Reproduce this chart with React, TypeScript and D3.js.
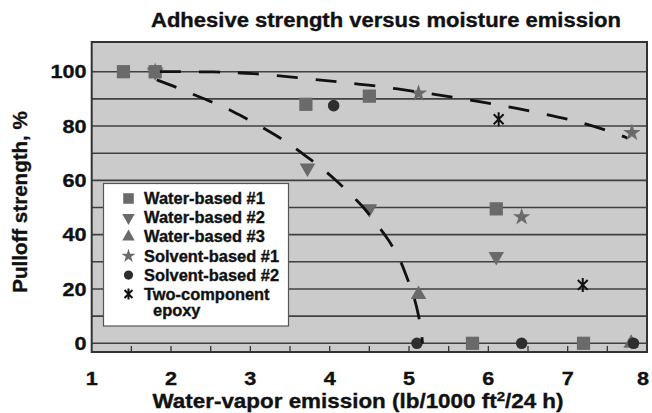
import React from "react";
import * as d3 from "d3";

const W = 652;
const H = 413;

const title = "Adhesive strength versus moisture emission";
const xTicks = [1, 2, 3, 4, 5, 6, 7, 8];
const xMinorTicks = [1.5, 2, 2.5, 3, 3.5, 4, 4.5, 5, 5.5, 6, 6.5, 7, 7.5];
const yTicks = [0, 20, 40, 60, 80, 100];
const yGrid = [0, 10, 20, 30, 40, 50, 60, 70, 80, 90, 100];

const waterBased1: [number, number][] = [[1.4, 100], [1.8, 100], [3.7, 88], [4.5, 91], [6.1, 49.5], [5.8, 0], [7.2, 0]];
const waterBased2: [number, number][] = [[1.8, 100], [3.72, 64.5], [4.5, 49.5], [6.1, 32]];
const waterBased3: [number, number][] = [[5.12, 18], [7.8, 0]];
const solventBased1: [number, number][] = [[1.8, 100], [5.12, 92], [6.42, 46.5], [7.81, 77.5]];
const solventBased2: [number, number][] = [[4.05, 87.5], [5.1, 0], [6.42, 0], [7.83, 0]];
const twoComponentEpoxy: [number, number][] = [[6.13, 82.5], [7.19, 21.5]];

const upperCurve: [number, number][] = [
  [1.86, 100], [2.53, 99.9], [3.04, 99.3], [3.59, 97.8], [4.09, 96.3], [4.59, 94.7],
  [5.1, 92.6], [5.6, 90.4], [6.11, 87.8], [6.61, 85], [7.12, 81.6], [7.6, 77.3], [7.75, 75.6],
];
const lowerCurve: [number, number][] = [
  [1.82, 97], [2.07, 94.2], [2.3, 91.4], [2.55, 88.4], [2.79, 85.2], [3.02, 81.6],
  [3.25, 77.8], [3.46, 74], [3.67, 69.6], [3.88, 65], [4.07, 60.2], [4.26, 55],
  [4.42, 50.2], [4.59, 44], [4.74, 38], [4.88, 31], [4.97, 24.5], [5.06, 17.2],
  [5.12, 10.2], [5.16, 3], [5.17, 0],
];

const legendLabels = [
  ["Water-based #1"],
  ["Water-based #2"],
  ["Water-based #3"],
  ["Solvent-based #1"],
  ["Solvent-based #2"],
  ["Two-component", "epoxy"],
];

const FONT = "'Liberation Sans', Arial, Helvetica, sans-serif";
const GRAY = "#6a6a6a";
const DARK = "#2e2e2e";
const INK = "#111";

const x = d3.scaleLinear().domain([1, 8]).range([91.7, 647]);
const y = d3.scaleLinear().domain([0, 100]).range([343.3, 71.7]);
const plotTop = 42;
const plotBottom = 352;

function sym(type: d3.SymbolType, size: number) {
  return d3.symbol().type(type).size(size)() as string;
}

const asteriskPath = (r: number) => {
  const p = d3.path();
  p.moveTo(0, -r);
  p.lineTo(0, r);
  const a = (45 * Math.PI) / 180;
  const dx = r * Math.cos(a);
  const dy = r * Math.sin(a);
  p.moveTo(-dx, -dy);
  p.lineTo(dx, dy);
  p.moveTo(-dx, dy);
  p.lineTo(dx, -dy);
  return p.toString();
};

type MarkerKind = "square" | "down" | "up" | "star" | "circle" | "asterisk";

function Marker({ kind, cx, cy, scale = 1 }: { kind: MarkerKind; cx: number; cy: number; scale?: number }) {
  const t = `translate(${cx},${cy})`;
  const s2 = scale * scale;
  switch (kind) {
    case "square":
      return <path transform={t} d={sym(d3.symbolSquare, 175 * s2)} fill={GRAY} />;
    case "down":
      return <path transform={`${t} rotate(180)`} d={sym(d3.symbolTriangle, 105 * s2)} fill={GRAY} />;
    case "up":
      return <path transform={t} d={sym(d3.symbolTriangle, 105 * s2)} fill={GRAY} />;
    case "star":
      return <path transform={t} d={sym(d3.symbolStar, 95 * s2)} fill={GRAY} />;
    case "circle":
      return <path transform={t} d={sym(d3.symbolCircle, 105 * s2)} fill={DARK} />;
    case "asterisk":
      return <path transform={t} d={asteriskPath(7 * scale)} stroke={INK} strokeWidth={2} fill="none" />;
  }
}

function SText({ x: tx, y: ty, sx, size, anchor = "start", rotate = 0, children }: any) {
  return (
    <text
      transform={`translate(${tx},${ty}) rotate(${rotate}) scale(${sx},1)`}
      textAnchor={anchor}
      fontSize={size}
      fontWeight="bold"
      fill={INK}
      stroke={INK}
      strokeWidth={0.35}
    >
      {children}
    </text>
  );
}

export default function App() {
  const line = d3
    .line<[number, number]>()
    .x((d) => x(d[0]))
    .y((d) => y(d[1]))
    .curve(d3.curveCatmullRom.alpha(0.5));

  const series: { kind: MarkerKind; data: [number, number][] }[] = [
    { kind: "up", data: waterBased3 },
    { kind: "down", data: waterBased2 },
    { kind: "star", data: solventBased1 },
    { kind: "square", data: waterBased1 },
    { kind: "circle", data: solventBased2 },
    { kind: "asterisk", data: twoComponentEpoxy },
  ];
  const legendKinds: MarkerKind[] = ["square", "down", "up", "star", "circle", "asterisk"];
  const legendY = [198.5, 217.7, 236.8, 256, 275, 294];

  return (
    <svg width={W} height={H} style={{ position: "absolute", left: 0, top: 0, background: "#fff" }} fontFamily={FONT}>
      <SText x={386} y={27} sx={1.13} size={19.5} anchor="middle">{title}</SText>
      {/* plot background */}
      <rect x={x(1)} y={plotTop} width={x(8) - x(1)} height={plotBottom - plotTop} fill="#cbcbcb" />
      {/* gridlines */}
      {yGrid.map((v) => (
        <line key={v} x1={x(1)} x2={x(8)} y1={y(v)} y2={y(v)} stroke="#404040" strokeWidth={1.6} />
      ))}
      {/* minor ticks on bottom */}
      {xMinorTicks.map((v) => (
        <line key={v} x1={x(v)} x2={x(v)} y1={plotBottom} y2={plotBottom - 6} stroke="#333" strokeWidth={1.3} />
      ))}
      {/* frame */}
      <rect x={x(1)} y={plotTop} width={x(8) - x(1)} height={plotBottom - plotTop} fill="none" stroke="#333" strokeWidth={2} />

      {/* markers */}
      {series.map((s) =>
        s.data.map((d, i) => <Marker key={s.kind + i} kind={s.kind} cx={x(d[0])} cy={y(d[1])} />)
      )}

      {/* dashed curves */}
      <path d={line(upperCurve) as string} fill="none" stroke={INK} strokeWidth={2.8} strokeDasharray="21,18" />
      <path d={line(lowerCurve) as string} fill="none" stroke={INK} strokeWidth={2.8} strokeDasharray="21,18" />

      {/* y tick labels */}
      {yTicks.map((v) => (
        <SText key={v} x={86.5} y={y(v) + 6.7} sx={1.17} size={18.5} anchor="end">{v}</SText>
      ))}
      {/* x tick labels */}
      {xTicks.map((v) => (
        <SText key={v} x={x(v) - (v === 8 ? 4 : 0)} y={385} sx={1.17} size={18.5} anchor="middle">{v}</SText>
      ))}
      {/* axis titles */}
      <SText x={358} y={408} sx={1.15} size={19.5} anchor="middle">
        Water-vapor emission (lb/1000 ft
        <tspan dy={-7.5} fontSize={13}>2</tspan>
        <tspan dy={7.5}>/24 h)</tspan>
      </SText>
      <SText x={27} y={202} sx={1.055} size={19.5} anchor="middle" rotate={-90}>
        Pulloff strength, %
      </SText>

      {/* legend */}
      <rect x={103.5} y={183.5} width={185} height={142.5} fill="#fff" stroke="#555" strokeWidth={1.2} />
      {legendLabels.map((lines, i) => (
        <g key={i}>
          <Marker kind={legendKinds[i]} cx={128.5} cy={legendY[i]} scale={0.8} />
          {lines.map((t, j) => (
            <SText key={j} x={j === 0 ? 144 : 153} y={legendY[i] + j * 16 + 5.5} sx={1.04} size={15.8}>
              {t}
            </SText>
          ))}
        </g>
      ))}
    </svg>
  );
}
